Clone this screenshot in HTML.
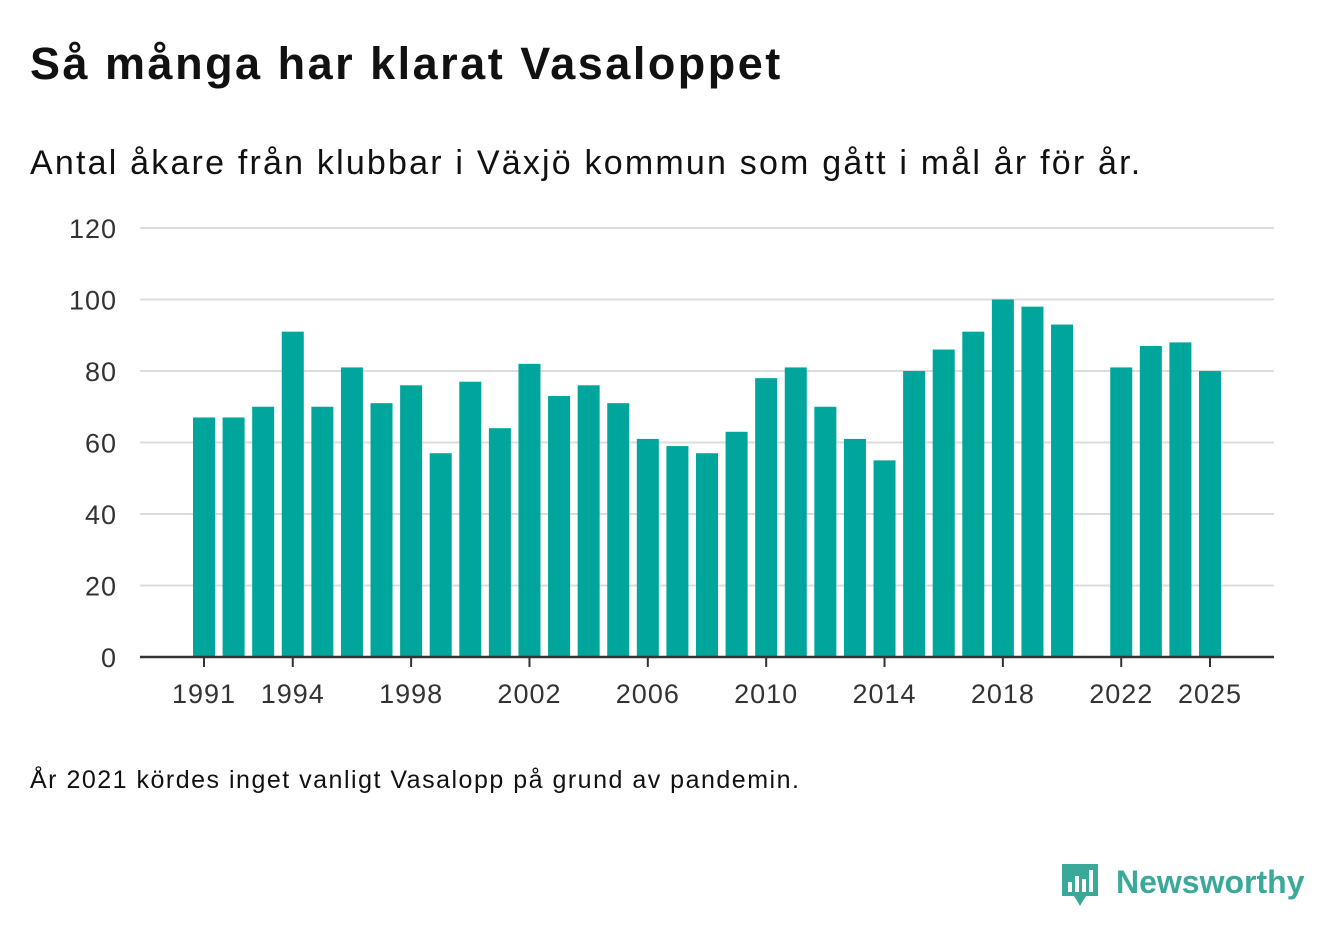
<!DOCTYPE html>
<html><head><meta charset="utf-8">
<style>
html,body{margin:0;padding:0;background:#fff;}
body{width:1340px;height:940px;position:relative;overflow:hidden;font-family:"Liberation Sans",sans-serif;color:#111;}
#title{position:absolute;left:30px;top:38px;font-size:45px;font-weight:bold;margin:0;letter-spacing:2.5px;}
#subtitle{position:absolute;left:30px;top:144px;font-size:34px;letter-spacing:2.2px;}
#note{position:absolute;left:30px;top:766px;font-size:25px;letter-spacing:1.5px;}
#logo{position:absolute;left:1060px;top:860px;}
</style></head><body>
<h1 id="title">Så många har klarat Vasaloppet</h1>
<div id="subtitle">Antal åkare från klubbar i Växjö kommun som gått i mål år för år.</div>
<svg id="chart" width="1340" height="940" style="position:absolute;left:0;top:0"></svg>
<div id="note">År 2021 kördes inget vanligt Vasalopp på grund av pandemin.</div>
<svg id="logo" width="260" height="52">
<path d="M2 4 h36 v32 h-12 l-6 10 l-6 -10 h-12 z" fill="#3aa99a"/>
<rect x="8" y="22" width="4" height="10" fill="#fff"/><rect x="15" y="16" width="4" height="16" fill="#fff"/><rect x="22" y="19" width="4" height="13" fill="#fff"/><rect x="29" y="10" width="4" height="22" fill="#fff"/>
<text x="56" y="33" font-family="Liberation Sans, sans-serif" font-size="32" font-weight="bold" fill="#3aa99a">Newsworthy</text>
</svg>
<script>
const years=[1991,1992,1993,1994,1995,1996,1997,1998,1999,2000,2001,2002,2003,2004,2005,2006,2007,2008,2009,2010,2011,2012,2013,2014,2015,2016,2017,2018,2019,2020,2021,2022,2023,2024,2025];
const values=[67,67,70,91,70,81,71,76,57,77,64,82,73,76,71,61,59,57,63,78,81,70,61,55,80,86,91,100,98,93,null,81,87,88,80];
const yTicks=[0,20,40,60,80,100,120];
const xTicks=[1991,1994,1998,2002,2006,2010,2014,2018,2022,2025];
const NS='http://www.w3.org/2000/svg';
const svg=document.getElementById('chart');
const x=yr=>204+(yr-1991)*(1210-204)/34;
const y=v=>657-v*(657-228)/120;
function mk(t,a){const e=document.createElementNS(NS,t);for(const k in a)e.setAttribute(k,a[k]);svg.appendChild(e);return e;}
yTicks.forEach(v=>{
  if(v>0){const g=mk('line',{x1:140,x2:1274,y1:y(v),y2:y(v),stroke:'#dcdcdc','stroke-width':2});
  
  }
  const t=mk('text',{x:117,y:y(v)+10,'text-anchor':'end','font-size':27,fill:'#333','font-family':'Liberation Sans, sans-serif','letter-spacing':1});
  t.textContent=v;
  
  
});
years.forEach((yr,i)=>{
  if(values[i]==null)return;
  const r=mk('rect',{x:x(yr)-11,y:y(values[i]),width:22,height:657-y(values[i]),fill:'#00a59b'});
  
  
});
const ax=mk('line',{x1:140,x2:1274,y1:657,y2:657,stroke:'#333','stroke-width':2.5});


xTicks.forEach(yr=>{
  const tk=mk('line',{x1:x(yr),x2:x(yr),y1:657,y2:667,stroke:'#333','stroke-width':2});
  
  
  const t=mk('text',{x:x(yr),y:703,'text-anchor':'middle','font-size':27,fill:'#333','font-family':'Liberation Sans, sans-serif','letter-spacing':1});
  t.textContent=yr;
  
  
});
</script>
</body></html>
